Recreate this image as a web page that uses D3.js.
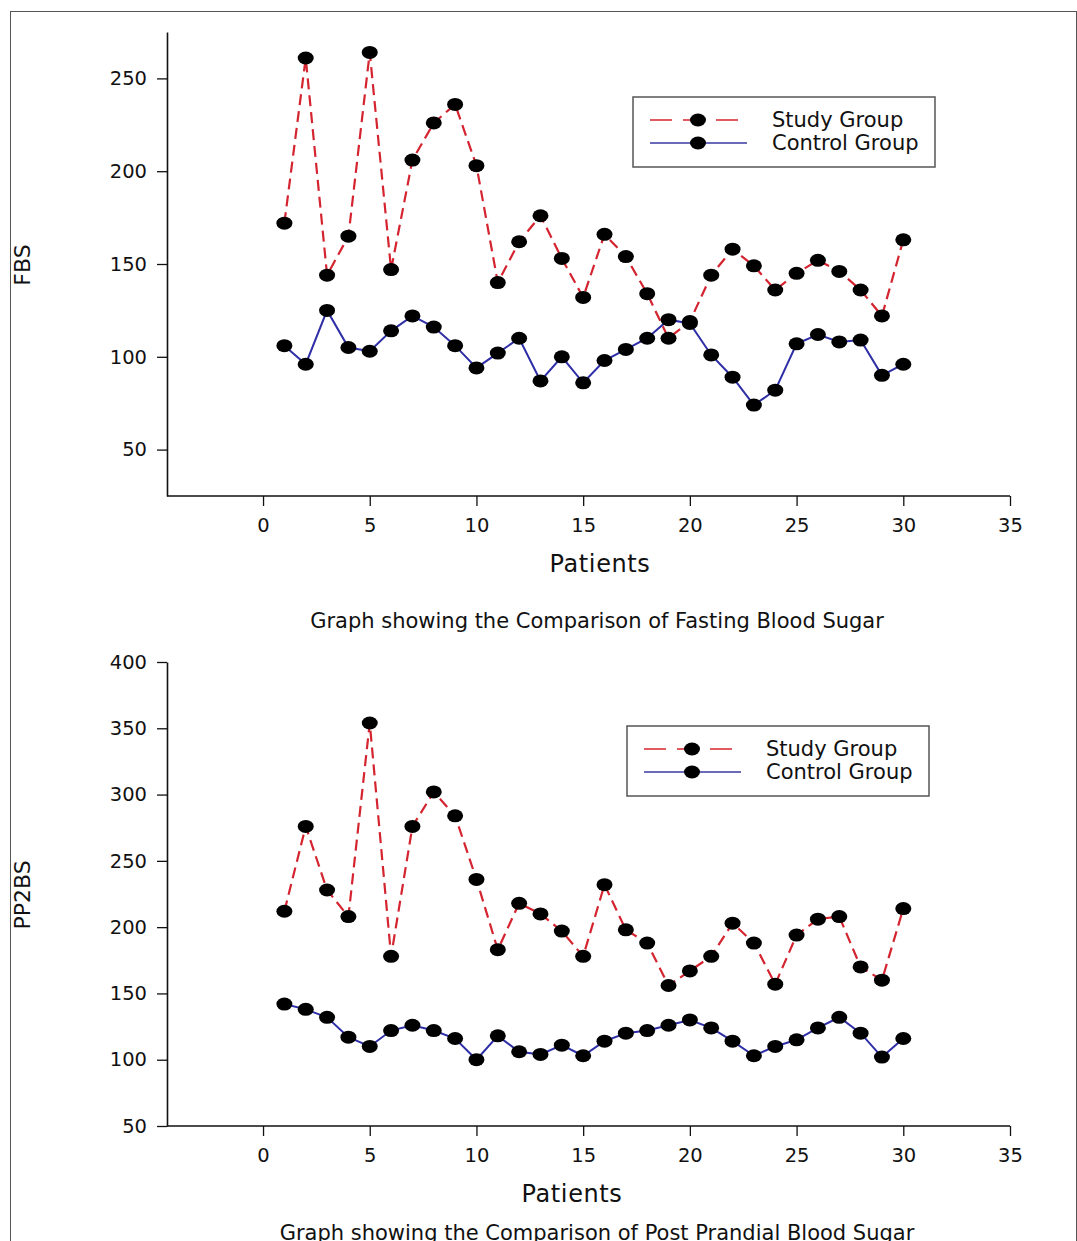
<!DOCTYPE html>
<html>
<head>
	<title> blood sugar comparison </title>
	<script src="https://d3js.org/d3.v7.min.js"></script>
	<style>
		body { margin: 0; background: #fff; }
		text { font-family: "DejaVu Sans", sans-serif; fill: #111; }
	</style>
</head>
<body>
	<svg width="1077" height="1241"></svg>
	<script type="text/javascript">
		// patient numbers on the x axis
		let patients = [1,2,3,4,5,6,7,8,9,10,11,12,13,14,15,16,17,18,19,20,21,22,23,24,25,26,27,28,29,30];
		// fasting blood sugar
		let fbsStudy = [172,261,144,165,264,147,206,226,236,203,140,162,176,153,132,166,154,134,110,119,144,158,149,136,145,152,146,136,122,163];
		let fbsControl = [106,96,125,105,103,114,122,116,106,94,102,110,87,100,86,98,104,110,120,118,101,89,74,82,107,112,108,109,90,96];
		// post prandial blood sugar
		let ppStudy = [212,276,228,208,354,178,276,302,284,236,183,218,210,197,178,232,198,188,156,167,178,203,188,157,194,206,208,170,160,214];
		let ppControl = [142,138,132,117,110,122,126,122,116,100,118,106,104,111,103,114,120,122,126,130,124,114,103,110,115,124,132,120,102,116];
		let xTicks = [0,5,10,15,20,25,30,35];
		let fbsTicks = [50,100,150,200,250];
		let ppTicks = [50,100,150,200,250,300,350,400];
		let seriesNames = ["Study Group", "Control Group"];

		let svg = d3.select("svg");
		let red = "#d42430", blue = "#2e2ea6";

		// outer frame
		svg.append("rect").attr("x", 10.5).attr("y", 11.5).attr("width", 1066).attr("height", 1250)
			.attr("fill", "none").attr("stroke", "#555").attr("stroke-width", 1);

		function draw_panel(opt)
		{
			let x = d3.scaleLinear().domain([-4.5, 35]).range([167, 1010]);
			let y = d3.scaleLinear().domain(opt.yDomain).range([opt.bottom, opt.top]);
			let g = svg.append("g");

			// axes
			let xa = g.append("g").attr("transform", "translate(0," + opt.bottom + ")")
				.call(d3.axisBottom(x).tickValues(xTicks).tickSize(10).tickPadding(12).tickSizeOuter(0));
			let ya = g.append("g").attr("transform", "translate(167,0)")
				.call(d3.axisLeft(y).tickValues(opt.yTicks).tickSize(10).tickPadding(10).tickSizeOuter(0));
			[xa, ya].forEach(function(a) {
				a.select(".domain").attr("stroke", "#111").attr("stroke-width", 1.6);
				a.selectAll(".tick line").attr("stroke", "#111").attr("stroke-width", 1.3);
				a.selectAll(".tick text").style("font-family", "DejaVu Sans").style("font-size", "19.5px").attr("fill", "#111");
			});
			xa.select(".domain").attr("d", "M167,0H1010");

			// lines
			let line = d3.line().x(function(d, i) { return x(patients[i]); }).y(function(d) { return y(d); });
			g.append("path").datum(opt.control).attr("d", line)
				.attr("fill", "none").attr("stroke", blue).attr("stroke-width", 2);
			g.append("path").datum(opt.study).attr("d", line)
				.attr("fill", "none").attr("stroke", red).attr("stroke-width", 2.2)
				.attr("stroke-dasharray", "11,6");
			[opt.control, opt.study].forEach(function(s) {
				g.selectAll(null).data(s).enter().append("ellipse")
					.attr("cx", function(d, i) { return x(patients[i]); })
					.attr("cy", function(d) { return y(d); })
					.attr("rx", 8).attr("ry", 6.5).attr("fill", "#000");
			});

			// labels
			g.append("text").attr("x", opt.patientsX).attr("y", opt.bottom + 76).attr("text-anchor", "middle")
				.style("font-size", "24px").style("letter-spacing", "0.6px").text("Patients");
			g.append("text").attr("transform", "translate(30," + opt.labelY + ") rotate(-90)")
				.attr("text-anchor", "middle").style("font-size", "22px").text(opt.yLabel);
			g.append("text").attr("x", 597).attr("y", opt.captionY).attr("text-anchor", "middle")
				.style("font-size", "21px").text(opt.caption);

			// legend
			let lg = g.append("g").attr("transform", "translate(" + opt.legend[0] + "," + opt.legend[1] + ")");
			lg.append("rect").attr("x", 0).attr("y", 0).attr("width", 302).attr("height", 70)
				.attr("fill", "#fff").attr("stroke", "#555").attr("stroke-width", 1.5);
			let rows = [
				{ name: seriesNames[0], color: "#e05a60", dash: "22,11", yy: 23 },
				{ name: seriesNames[1], color: "#6a6ab8", dash: null, yy: 46 }
			];
			rows.forEach(function(r) {
				lg.append("line").attr("x1", 17).attr("x2", r.dash ? 106 : 114).attr("y1", r.yy).attr("y2", r.yy)
					.attr("stroke", r.color).attr("stroke-width", 2).attr("stroke-dasharray", r.dash);
				lg.append("ellipse").attr("cx", 65).attr("cy", r.yy).attr("rx", 8).attr("ry", 6.5).attr("fill", "#000");
				lg.append("text").attr("x", 139).attr("y", r.yy + 7).style("font-size", "21px").text(r.name);
			});
		}

		draw_panel({ study: fbsStudy, control: fbsControl, yDomain: [25, 275], yTicks: fbsTicks,
			top: 32, bottom: 496, yLabel: "FBS", labelY: 265, patientsX: 600, captionY: 628,
			caption: "Graph showing the Comparison of Fasting Blood Sugar", legend: [633, 97] });
		draw_panel({ study: ppStudy, control: ppControl, yDomain: [50, 400], yTicks: ppTicks,
			top: 662, bottom: 1126, yLabel: "PP2BS", labelY: 895, patientsX: 572, captionY: 1240,
			caption: "Graph showing the Comparison of Post Prandial Blood Sugar", legend: [627, 726] });
	</script>
</body>
</html>
